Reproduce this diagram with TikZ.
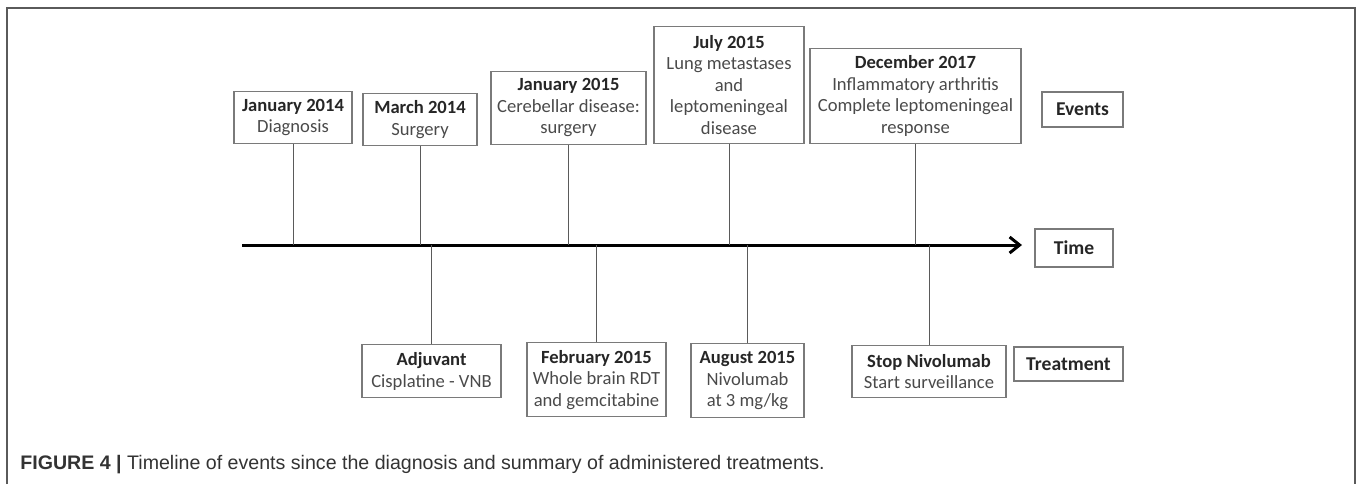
\documentclass[tikz,border=0pt]{standalone}
\usepackage{fontspec}
\setmainfont{Carlito}
\newfontfamily\capfont{Liberation Sans}
\usetikzlibrary{arrows.meta}
\definecolor{boxgray}{HTML}{7A7A7A}
\definecolor{linegray}{HTML}{5A5A5A}
\definecolor{txtgray}{HTML}{4A4A4A}
\newcommand{\hd}[1]{{\color{black!85}\bfseries #1}}

\begin{document}
\begin{tikzpicture}[
    x=0.5pt, y=-0.5pt,
    evt/.style={draw=boxgray, line width=0.7pt, align=center, inner sep=1pt,
      font=\fontsize{9.3}{10.8}\selectfont, text=txtgray, anchor=south},
    trt/.style={evt, anchor=north},
    tag/.style={draw=boxgray, line width=0.7pt, inner sep=1pt,
      font=\bfseries\fontsize{9.8}{11}\selectfont, text=black!85},
    stem/.style={draw=linegray, line width=0.5pt},
    ]
  \useasboundingbox (0,0) rectangle (1357,484);
  \draw[linegray, line width=1pt] (7,484) -- (7,8) -- (1355,8) -- (1355,484);

  % events above the time axis
  \node[evt, minimum width=59pt, minimum height=26pt] (jan14) at (293,144) {\hd{January 2014}\\Diagnosis};
  \node[evt, minimum width=57pt, minimum height=26pt] (mar14) at (420,146) {\hd{March 2014}\\Surgery};
  \node[evt, minimum width=77.5pt, minimum height=36.5pt] (jan15) at (568.5,145) {\hd{January 2015}\\Cerebellar disease:\\surgery};
  \node[evt, minimum width=75pt, minimum height=58.5pt] (jul15) at (729,144) {\hd{July 2015}\\Lung metastases\\and\\leptomeningeal\\disease};
  \node[evt, minimum width=105.5pt, minimum height=47.5pt] (dec17) at (915.5,144) {\hd{December 2017}\\Inflammatory arthritis\\Complete leptomeningeal\\response};
  \node[tag, minimum width=40.5pt, minimum height=17.5pt] (events) at (1082.5,109.5) {Events};

  % time axis
  \coordinate (axisL) at (242,245);
  \coordinate (axisR) at (1022,245);
  \draw[line width=1.5pt, -{Straight Barb[length=5pt,width=8pt]}] (axisL) -- (axisR);
  \node[tag, minimum width=39pt, minimum height=19pt] (time) at (1074,248) {Time};

  % treatments below the time axis
  \node[trt, minimum width=69.5pt, minimum height=26.5pt] (adj) at (431.5,344) {\hd{Adjuvant}\\Cisplatine - VNB};
  \node[trt, minimum width=69.5pt, minimum height=37pt] (feb15) at (596.5,342) {\hd{February 2015}\\Whole brain RDT\\and gemcitabine};
  \node[trt, minimum width=56.5pt, minimum height=37pt] (aug15) at (747.5,343) {\hd{August 2015}\\Nivolumab\\at 3 mg/kg};
  \node[trt, minimum width=77pt, minimum height=26pt] (stop) at (929,345) {\hd{Stop Nivolumab}\\Start surveillance};
  \node[tag, minimum width=54.5pt, minimum height=17pt] (treat) at (1068.5,364) {Treatment};

  \draw[stem] (jan14.south) -- (jan14.south |- axisL);
  \draw[stem] (mar14.south) -- (mar14.south |- axisL);
  \draw[stem] (jan15.south) -- (jan15.south |- axisL);
  \draw[stem] (jul15.south) -- (jul15.south |- axisL);
  \draw[stem] (dec17.south) -- (dec17.south |- axisL);
  \draw[stem] (adj.north) -- (adj.north |- axisL);
  \draw[stem] (feb15.north) -- (feb15.north |- axisL);
  \draw[stem] (aug15.north) -- (aug15.north |- axisL);
  \draw[stem] (stop.north) -- (stop.north |- axisL);

  \node[anchor=west, inner sep=0, text=black!80, font=\capfont\fontsize{9.8}{11}\selectfont]
    (caption) at (20,465) {\textbf{FIGURE 4 |} Timeline of events since the diagnosis and summary of administered treatments.};
\end{tikzpicture}
\end{document}
